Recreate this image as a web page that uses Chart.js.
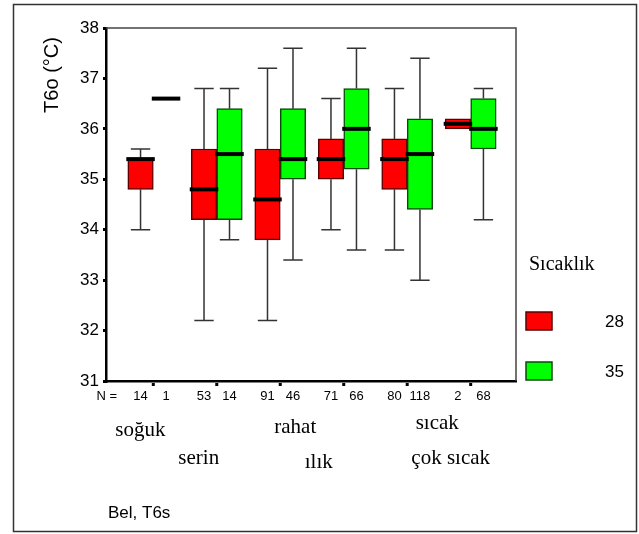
<!DOCTYPE html>
<html>
<head>
<meta charset="utf-8">
<script src="https://cdn.jsdelivr.net/npm/chart.js@4/dist/chart.umd.min.js"></script>
<style>
  html, body { margin: 0; padding: 0; background: #fff; }
  canvas { display: block; }
</style>
</head>
<body>
<canvas id="chart" width="639" height="534"></canvas>
<script>
// categories of thermal sensation
const categories = ["soğuk", "serin", "rahat", "ılık", "sıcak", "çok sıcak"];
const seriesNames = ["28", "35"];

// counts per box
const n28 = [14, 53, 91, 71, 80, 2];
const n35 = [1, 14, 46, 66, 118, 68];

// box statistics, Sıcaklık 28
const lo28  = [34.0, 32.2, 32.2, 34.0, 33.6, null];
const q1_28 = [34.8, 34.2, 33.8, 35.0, 34.8, 36.0];
const med28 = [35.4, 34.8, 34.6, 35.4, 35.4, 36.1];
const q3_28 = [35.4, 35.6, 35.6, 35.8, 35.8, 36.2];
const hi28  = [35.6, 36.8, 37.2, 36.6, 36.8, null];

// box statistics, Sıcaklık 35
const lo35  = [null, 33.8, 33.4, 33.6, 33.0, 34.2];
const q1_35 = [null, 34.2, 35.0, 35.2, 34.4, 35.6];
const med35 = [36.6, 35.5, 35.4, 36.0, 35.5, 36.0];
const q3_35 = [null, 36.4, 36.4, 36.8, 36.2, 36.6];
const hi35  = [null, 36.8, 37.6, 37.6, 37.4, 36.8];

const yTicks = [31, 32, 33, 34, 35, 36, 37, 38];

// label placement (pixel offsets from category tick)
const catLabelDx = [-13, -18, 15, -25, 30, -20];
const catLabelY  = [430, 458, 427, 462, 423, 458];

const SANS = "'Liberation Sans', Arial, sans-serif";
const SERIF = "'Liberation Serif', 'Times New Roman', serif";

const stats = [
    { lo: lo28, q1: q1_28, med: med28, q3: q3_28, hi: hi28, n: n28 },
    { lo: lo35, q1: q1_35, med: med35, q3: q3_35, hi: hi35, n: n35 },
];

function boxData(q1, q3) {
    return categories.map((c, i) => ({
        x: i,
        y: q1[i] == null ? null : [q1[i], q3[i]],
    }));
}

const BOX_W = 25.5;

const boxPlugin = {
    id: "boxPlugin",
    beforeDraw(chart) {
        const ctx = chart.ctx;
        ctx.save();
        ctx.fillStyle = "#fff";
        ctx.fillRect(0, 0, chart.width, chart.height);
        ctx.restore();
    },
    afterDatasetsDraw(chart) {
        const ctx = chart.ctx;
        const xs = chart.scales.x;
        const ys = chart.scales.y;
        ctx.save();
        stats.forEach((s, d) => {
            const meta = chart.getDatasetMeta(d);
            categories.forEach((c, i) => {
                let cx = meta.data[i] && isFinite(meta.data[i].x)
                    ? meta.data[i].x
                    : xs.getPixelForValue(i) + (d === 0 ? -1 : 1) * BOX_W / 2;
                const capHalf = BOX_W * 0.38;
                ctx.strokeStyle = "#333";
                ctx.lineWidth = 1.5;
                // whiskers
                const seg = (a, b) => {
                    if (a == null || b == null) return;
                    const ya = ys.getPixelForValue(a), yb = ys.getPixelForValue(b);
                    ctx.beginPath();
                    ctx.moveTo(cx, ya);
                    ctx.lineTo(cx, yb);
                    ctx.moveTo(cx - capHalf, yb);
                    ctx.lineTo(cx + capHalf, yb);
                    ctx.stroke();
                };
                seg(s.q3[i], s.hi[i]);
                seg(s.q1[i], s.lo[i]);
                // median
                const ym = ys.getPixelForValue(s.med[i]);
                ctx.strokeStyle = "#000";
                ctx.lineWidth = 4;
                ctx.beginPath();
                ctx.moveTo(cx - BOX_W / 2 - 1.5, ym);
                ctx.lineTo(cx + BOX_W / 2 + 1.5, ym);
                ctx.stroke();
            });
        });
        ctx.restore();
    },
    afterDraw(chart) {
        const ctx = chart.ctx;
        const xs = chart.scales.x;
        const a = chart.chartArea;
        ctx.save();
        // outer frame
        ctx.strokeStyle = "#333";
        ctx.lineWidth = 1.5;
        ctx.strokeRect(13.5, 4.5, 623, 527);
        // top and right plot border
        ctx.strokeStyle = "#444";
        ctx.beginPath();
        ctx.moveTo(a.left, a.top);
        ctx.lineTo(a.right, a.top);
        ctx.lineTo(a.right, a.bottom);
        ctx.stroke();

        // category tick dots
        ctx.fillStyle = "#000";
        categories.forEach((c, i) => {
            const x = xs.getPixelForValue(i);
            ctx.fillRect(x - 1.5, a.bottom + 2, 3, 3);
        });

        // N counts
        ctx.font = "13px " + SANS;
        ctx.textBaseline = "middle";
        ctx.textAlign = "right";
        ctx.fillText("N =", 117, 396);
        ctx.textAlign = "center";
        stats.forEach((s, d) => {
            categories.forEach((c, i) => {
                const x = xs.getPixelForValue(i) + (d === 0 ? -1 : 1) * BOX_W / 2;
                ctx.fillText(String(s.n[i]), x, 396);
            });
        });

        // category names
        ctx.font = "21px " + SERIF;
        categories.forEach((c, i) => {
            ctx.fillText(c, xs.getPixelForValue(i) + catLabelDx[i], catLabelY[i]);
        });

        // y axis title
        ctx.save();
        ctx.translate(52, 75);
        ctx.rotate(-Math.PI / 2);
        ctx.font = "20px " + SANS;
        ctx.fillText("T6o (°C)", 0, 0);
        ctx.restore();

        // subtitle
        ctx.textAlign = "left";
        ctx.font = "17px " + SANS;
        ctx.fillText("Bel, T6s", 108, 513);

        // legend
        ctx.font = "20px " + SERIF;
        ctx.fillText("Sıcaklık", 529, 265);
        chart.data.datasets.forEach((ds, d) => {
            const y = 312 + d * 50;
            ctx.fillStyle = ds.backgroundColor;
            ctx.fillRect(526, y, 26, 18);
            ctx.strokeStyle = ds.borderColor;
            ctx.lineWidth = 1.5;
            ctx.strokeRect(526, y, 26, 18);
            ctx.fillStyle = "#000";
            ctx.textAlign = "right";
            ctx.font = "17px " + SANS;
            ctx.fillText(ds.label, 624, y + 10);
        });
        ctx.restore();
    },
};

new Chart(document.getElementById("chart"), {
    type: "bar",
    data: {
        datasets: [
            {
                label: seriesNames[0],
                data: boxData(q1_28, q3_28),
                backgroundColor: "#ff0000",
                borderColor: "#5a0000",
                borderWidth: 1.5,
                borderSkipped: false,
                barThickness: BOX_W,
            },
            {
                label: seriesNames[1],
                data: boxData(q1_35, q3_35),
                backgroundColor: "#00ff00",
                borderColor: "#0a4a0a",
                borderWidth: 1.5,
                borderSkipped: false,
                barThickness: BOX_W,
            },
        ],
    },
    options: {
        responsive: false,
        animation: false,
        layout: { padding: { left: 0, top: 28, right: 123, bottom: 133 } },
        plugins: {
            legend: { display: false },
            tooltip: { enabled: false },
        },
        scales: {
            x: {
                type: "linear",
                min: -0.745,
                max: 5.714,
                offset: false,
                grid: { display: false },
                ticks: { display: false },
                border: { display: true, color: "#000", width: 2.5 },
                afterFit: (scale) => { scale.height = 20; },
            },
            y: {
                min: 31,
                max: 38,
                afterBuildTicks: (scale) => {
                    scale.ticks = yTicks.map((v) => ({ value: v }));
                },
                grid: {
                    drawOnChartArea: false,
                    drawTicks: true,
                    tickLength: 3,
                    lineWidth: 3,
                    color: "#000",
                },
                border: { display: true, color: "#000", width: 2.5 },
                ticks: {
                    padding: 4,
                    color: "#000",
                    font: { family: SANS, size: 17 },
                },
                afterFit: (scale) => { scale.width = 106; },
            },
        },
    },
    plugins: [boxPlugin],
});
</script>
</body>
</html>
